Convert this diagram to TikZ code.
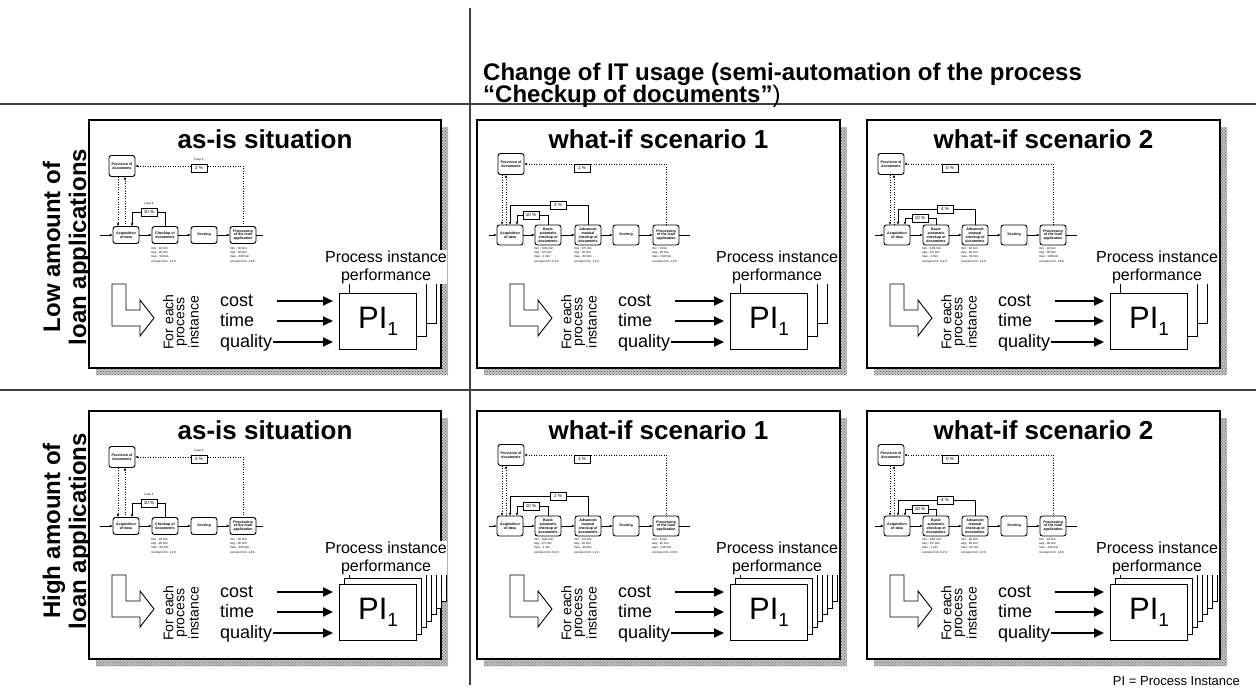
\documentclass[tikz,border=0pt]{standalone}
\usepackage{fontspec}
\setmainfont{Liberation Sans}
\usetikzlibrary{arrows.meta,patterns}

\tikzset{
  panelbox/.style={draw=black,line width=1.1pt,fill=white},
  shadowfill/.style={fill=gray!50},
  shadowdots/.style={pattern=crosshatch dots,pattern color=black!60},
  rule/.style={draw=black!75,line width=1.3pt},
  headtext/.style={font=\fontsize{24}{27}\selectfont\bfseries,inner sep=0pt},
  rowlabel/.style={font=\fontsize{24}{26}\selectfont\bfseries,align=center,rotate=90,inner sep=0pt},
  paneltitle/.style={font=\fontsize{26}{30}\selectfont\bfseries,anchor=base,inner sep=0pt},
  minibox/.style={draw,line width=0.9pt,rounded corners=2.5pt,minimum width=26pt,minimum height=20pt,inner sep=0.5pt,align=center,font=\fontsize{3.6}{3.9}\selectfont\bfseries,fill=white},
  flow/.style={line width=0.5pt,-{Triangle[length=2.6pt,width=2.2pt]}},
  thinline/.style={line width=0.5pt},
  dotflow/.style={flow,dotted},
  dline/.style={draw=black!75,line width=0.7pt,double=white,double distance=1.5pt},
  pctbox/.style={draw,line width=0.5pt,fill=white,minimum width=16pt,minimum height=8pt,inner sep=0.5pt,font=\fontsize{4.5}{5}\selectfont},
  looplabel/.style={font=\fontsize{3}{3.2}\selectfont,inner sep=0pt},
  stats/.style={font=\fontsize{3}{4.2}\selectfont,align=left,anchor=north west,inner sep=0pt},
  perf/.style={font=\fontsize{16}{18}\selectfont,align=center,inner sep=0.5pt,fill=white},
  measure/.style={font=\fontsize{18}{20}\selectfont,anchor=base west,inner sep=0pt},
  eachlabel/.style={font=\fontsize{14}{11}\selectfont,align=center,rotate=90,inner sep=0pt},
  bigarrow/.style={line width=1.8pt,-{Triangle[length=10pt,width=9pt]},shorten >=6pt},
  pisheet/.style={draw,line width=1pt,fill=white,minimum width=77pt,minimum height=56pt,anchor=north west,inner sep=0pt,font=\fontsize{31}{31}\selectfont},
  hollow/.style={draw,line width=0.9pt,fill=white,line join=miter},
  legend/.style={font=\fontsize{13}{15}\selectfont,anchor=base east,inner sep=0pt}
}

% panel: #1 name, #2 x, #3 y, #4 width, #5 height, #6 title
\newcommand{\panelframe}[6]{%
  \fill[shadowfill] (#2+7,#3+7) rectangle (#2+#4+7,#3+#5+7);
  \fill[shadowdots] (#2+7,#3+7) rectangle (#2+#4+7,#3+#5+7);
  \draw[panelbox] (#2,#3) rectangle (#2+#4,#3+#5);
  \node[paneltitle] (#1title) at (#2+#4/2,#3+28) {#6};
}

% four lines of figures under an activity
\newcommand{\statblock}[7]{%
  \node[stats] (#1) at (#2,#3) {#4\\#5\\#6\\[0.8pt]#7};
}

% stack of process instance sheets: #1 prefix, #2 x, #3 y, #4 sheets behind, #5 dx, #6 dy
\newcommand{\pistack}[6]{%
  \foreach \k in {#4,...,1} {
    \node[pisheet] (#1back\k) at (#2+\k*#5,#3-\k*#6) {};
  }
  \node[pisheet] (#1front) at (#2,#3) {PI\raisebox{-7pt}{\fontsize{19}{19}\selectfont 1}};
}

% lower half of a panel: #1 prefix, #2 x offset, #3 sheets behind, #4 dx, #5 dy
\newcommand{\perfpart}[5]{%
  \draw[hollow] (23,164) -- (37,164) -- (37,190) -- (51,190) -- (51,180) -- (65,198) -- (51,216) -- (51,206) -- (23,206) -- cycle;
  \node[eachlabel] (#1each) at (92,202) {For each\\process\\instance};
  \node[measure] (#1cost) at (131,186) {cost};
  \node[measure] (#1time) at (131,206) {time};
  \node[measure] (#1qual) at (131,227) {quality};
  \pistack{#1}{243+#2}{173}{#3}{#4}{#5}
  \node[perf] (#1perf) at (290+#2,147) {Process instance\\performance};
  \coordinate (#1cs) at (188,181);
  \coordinate (#1ts) at (188,201);
  \coordinate (#1qs) at (184,222);
  \draw[bigarrow] (#1cs) -- (#1front.west |- #1cs);
  \draw[bigarrow] (#1ts) -- (#1front.west |- #1ts);
  \draw[bigarrow] (#1qs) -- (#1front.west |- #1qs);
}

% current process
\newcommand{\asisproc}[1]{%
  \draw[dline] (11,71) -- (341,71);
  \node[minibox,minimum height=21pt] (#1prov) at (33,46) {Provision of\\documents};
  \node[minibox,minimum height=17pt] (#1acq) at (37,115) {Acquisition\\of data};
  \node[minibox,minimum height=17pt] (#1chk) at (76,115) {Checkup of\\documents};
  \node[minibox,minimum height=17pt] (#1scr) at (115,115) {Scoring};
  \node[minibox,minimum height=17pt] (#1prc) at (154,115) {Processing\\of the loan\\application};
  \coordinate (#1in) at (11,115);
  \coordinate (#1out) at (174,115);
  \draw[flow] (#1in) -- (#1acq);
  \draw[flow] (#1acq) -- (#1chk);
  \draw[flow] (#1chk) -- (#1scr);
  \draw[flow] (#1scr) -- (#1prc);
  \draw[thinline] (#1prc) -- (#1out);
  \draw[flow] (#1chk.north) -- (#1chk.north |- 0,92) -- (43,92) -- (#1acq.north -| 43,0);
  \node[pctbox] (#1p1) at (60,92) {10 \%};
  \node[looplabel] (#1l1) at (60,84) {Loop 1};
  \draw[dotflow] (#1prc.north) |- (#1prov.east);
  \node[pctbox] (#1p2) at (110,48) {2 \%};
  \node[looplabel] (#1l2) at (110,40) {Loop 2};
  \draw[dotflow] (#1prov.south -| 29,0) -- (#1acq.north -| 29,0);
  \draw[dotflow] (#1acq.north -| 36,0) -- (#1prov.south -| 36,0);
  \statblock{#1s1}{62}{127}{min.: 10 min}{avg.: 20 min}{max.: 50 min}{cost per min: 1,2 €}
  \statblock{#1s2}{141}{127}{min.: 10 min}{avg.: 30 min}{max.: 220 min}{cost per min: 1,8 €}
}

% process with basic automatic checkup
\newcommand{\whatifoneproc}[1]{%
  \draw[dline] (-7,71) -- (350,71);
  \node[minibox,minimum height=21pt] (#1prov) at (24,44) {Provision of\\documents};
  \node[minibox] (#1acq) at (23,115) {Acquisition\\of data};
  \node[minibox] (#1bas) at (61,115) {Basic\\automatic\\checkup of\\documents};
  \node[minibox] (#1adv) at (101,115) {Advanced\\manual\\checkup of\\documents};
  \node[minibox] (#1scr) at (139,115) {Scoring};
  \node[minibox] (#1prc) at (179,115) {Processing\\of the loan\\application};
  \coordinate (#1in) at (2,115);
  \coordinate (#1out) at (203,115);
  \draw[flow] (#1in) -- (#1acq);
  \draw[flow] (#1acq) -- (#1bas);
  \draw[flow] (#1bas) -- (#1adv);
  \draw[flow] (#1adv) -- (#1scr);
  \draw[flow] (#1scr) -- (#1prc);
  \draw[thinline] (#1prc) -- (#1out);
  \draw[flow] (#1bas.north) -- (#1bas.north |- 0,95) -- (30,95) -- (#1acq.north -| 30,0);
  \node[pctbox] (#1p1) at (44,95) {10 \%};
  \draw[flow] (#1adv.north) -- (#1adv.north |- 0,85) -- (23,85) -- (#1acq.north -| 23,0);
  \node[pctbox] (#1p2) at (71,85) {2 \%};
  \draw[dotflow] (#1prc.north) |- (#1prov.east);
  \node[pctbox] (#1p3) at (95,48) {1 \%};
  \draw[dotflow] (#1prov.south -| 15,0) -- (#1acq.north -| 15,0);
  \draw[dotflow] (#1acq.north -| 19,0) -- (#1prov.south -| 19,0);
  \statblock{#1s1}{47}{127}{min.: 0,01 min}{avg.: 0,5 min}{max.: 1 min}{cost per min: 0,2 €}
  \statblock{#1s2}{87}{127}{min.: 0,5 min}{avg.: 10 min}{max.: 40 min}{cost per min: 1,2 €}
  \statblock{#1s3}{165}{127}{min.: 8 min}{avg.: 25 min}{max.: 210 min}{cost per min: 1,8 €}
}

% process with basic automatic checkup, second variant
\newcommand{\whatiftwoproc}[1]{%
  \draw[dline] (3,71) -- (351,71);
  \node[minibox,minimum height=21pt] (#1prov) at (24,44) {Provision of\\documents};
  \node[minibox] (#1acq) at (30,115) {Acquisition\\of data};
  \node[minibox] (#1bas) at (69,115) {Basic\\automatic\\checkup of\\documents};
  \node[minibox] (#1adv) at (108,115) {Advanced\\manual\\checkup of\\documents};
  \node[minibox] (#1scr) at (147,115) {Scoring};
  \node[minibox] (#1prc) at (186,115) {Processing\\of the loan\\application};
  \coordinate (#1in) at (8,115);
  \coordinate (#1out) at (210,115);
  \draw[flow] (#1in) -- (#1acq);
  \draw[flow] (#1acq) -- (#1bas);
  \draw[flow] (#1bas) -- (#1adv);
  \draw[flow] (#1adv) -- (#1scr);
  \draw[flow] (#1scr) -- (#1prc);
  \draw[thinline] (#1prc) -- (#1out);
  \draw[flow] (#1bas.north) -- (#1bas.north |- 0,98) -- (38,98) -- (#1acq.north -| 38,0);
  \node[pctbox] (#1p1) at (53,98) {10 \%};
  \draw[flow] (#1adv.north) -- (#1adv.north |- 0,89) -- (31,89) -- (#1acq.north -| 31,0);
  \node[pctbox] (#1p2) at (78,89) {4 \%};
  \draw[dotflow] (#1prc.north) |- (#1prov.east);
  \node[pctbox] (#1p3) at (83,48) {0 \%};
  \draw[dotflow] (#1prov.south -| 23,0) -- (#1acq.north -| 23,0);
  \draw[dotflow] (#1acq.north -| 27,0) -- (#1prov.south -| 27,0);
  \statblock{#1s1}{55}{127}{min.: 0,01 min}{avg.: 0,5 min}{max.: 1 min}{cost per min: 0,2 €}
  \statblock{#1s2}{94}{127}{min.: 10 min}{avg.: 20 min}{max.: 50 min}{cost per min: 1,2 €}
  \statblock{#1s3}{172}{127}{min.: 10 min}{avg.: 30 min}{max.: 220 min}{cost per min: 1,8 €}
}

\begin{document}
\begin{tikzpicture}[x=1pt,y=-1pt]
\useasboundingbox (0,0) rectangle (1256,691);
\fill[white] (0,0) rectangle (1256,691);

% grid of the comparison
\draw[rule] (470,8) -- (470,685);
\draw[rule] (0,104) -- (1256,104);
\draw[rule] (0,390) -- (1256,390);

\node[headtext,anchor=base west] (head1) at (483,80) {Change of IT usage (semi-automation of the process};
\node[headtext,anchor=base west] (head2) at (483,102) {“Checkup of documents”\mdseries)};

\node[rowlabel] (rowlow) at (67,247) {Low amount of\\loan applications};
\node[rowlabel] (rowhigh) at (67,531) {High amount of\\loan applications};

% low amount of loan applications
\panelframe{a}{89}{120}{352}{248}{as-is situation}
\begin{scope}[shift={(89,120)}]
  \asisproc{a}
  \perfpart{ap}{7}{2}{10}{13}
\end{scope}
\panelframe{b}{477}{120}{363}{248}{what-if scenario 1}
\begin{scope}[shift={(487,120)}]
  \whatifoneproc{b}
  \perfpart{bp}{0}{2}{10}{13}
\end{scope}
\panelframe{c}{867}{120}{353}{248}{what-if scenario 2}
\begin{scope}[shift={(867,120)}]
  \whatiftwoproc{c}
  \perfpart{cp}{0}{2}{10}{13}
\end{scope}

% high amount of loan applications
\panelframe{d}{89}{411}{352}{248}{as-is situation}
\begin{scope}[shift={(89,411)}]
  \asisproc{d}
  \perfpart{dp}{7}{6}{5}{6.5}
\end{scope}
\panelframe{e}{477}{411}{363}{248}{what-if scenario 1}
\begin{scope}[shift={(487,411)}]
  \whatifoneproc{e}
  \perfpart{ep}{0}{6}{5}{6.5}
\end{scope}
\panelframe{f}{867}{411}{353}{248}{what-if scenario 2}
\begin{scope}[shift={(867,411)}]
  \whatiftwoproc{f}
  \perfpart{fp}{0}{6}{5}{6.5}
\end{scope}

\node[legend] (legendpi) at (1240,685) {PI = Process Instance};
\end{tikzpicture}
\end{document}
